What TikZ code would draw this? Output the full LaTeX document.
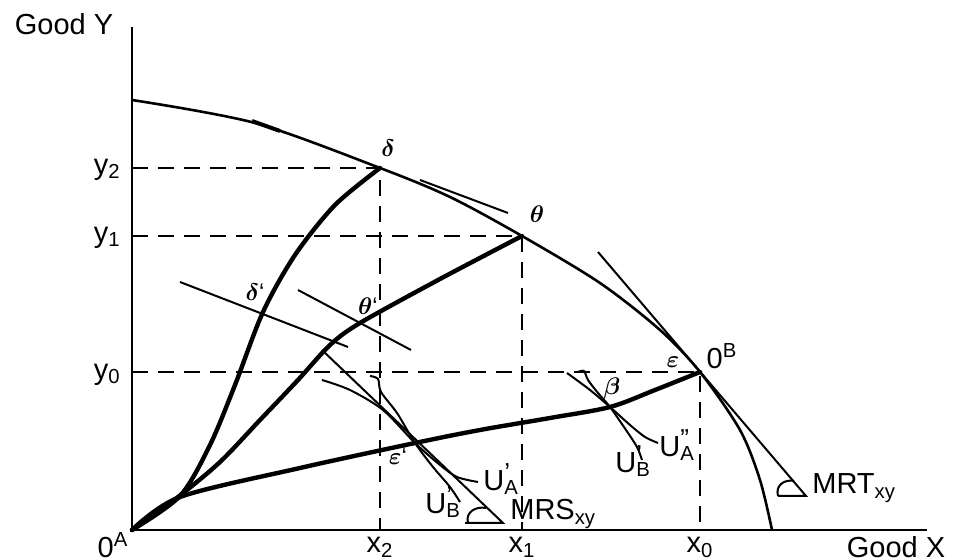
\documentclass[tikz,border=0pt]{standalone}
\usepackage{fontspec}
\setmainfont{Liberation Sans}
\usetikzlibrary{positioning}

\newcommand{\pr}[1]{\rlap{\raisebox{0.32em}{\fontsize{13}{13}\selectfont #1}}}

\tikzset{
  axis/.style={line width=1.1pt},
  ppf/.style={line width=1.3pt},
  contract/.style={line width=2.2pt, line join=round, line cap=round},
  tangline/.style={line width=1pt},
  guide/.style={dash pattern=on 8pt off 5pt, line width=1.1pt},
  lbl/.style={font=\fontsize{14.5}{16}\selectfont, inner sep=1pt},
  greek/.style={font=\fontsize{12}{14}\selectfont\boldmath, inner sep=1pt},
}

\begin{document}
\begin{tikzpicture}[x=0.5pt, y=-0.5pt]
\useasboundingbox (0,0) rectangle (960,560);

\coordinate (OA) at (132,530);
\coordinate (ytop) at (132,27);
\coordinate (xend) at (927,530);
\coordinate (delta) at (380,168);
\coordinate (theta) at (522,236);
\coordinate (OB) at (700,372);
\coordinate (deltap) at (263,312);
\coordinate (thetap) at (360,323);
\coordinate (epsp) at (415,443);
\coordinate (beta) at (610,407);

\draw[axis] (ytop) -- (OA) -- (xend);

\draw[guide] (delta -| OA) -- (delta) -- (delta |- OA);
\draw[guide] (theta -| OA) -- (theta) -- (theta |- OA);
\draw[guide] (OB -| OA) -- (OB) -- (OB |- OA);

% production possibility frontier
\draw[ppf] plot[smooth] coordinates {(132,100) (255,123) (delta) (450,197) (theta) (600,283) (660,330) (OB) (740,430) (760,480) (772,530)};
\draw[line width=2pt] (252,121) -- (280,131);
\draw[tangline] (420,180) -- (508,213);
\coordinate (mrt) at (806,496);
\draw[tangline] (598,252) -- (mrt) -- (778,496);
\draw[tangline] (778,496) .. controls (775,485) and (785,479) .. (794,481);

% contract curves
\draw[contract] plot[smooth] coordinates {(OA) (180,496) (210,445) (235,385) (deltap) (295,255) (335,205) (delta)};
\draw[contract] plot[smooth] coordinates {(OA) (178,497) (220,462) (260,420) (298,380) (330,345) (thetap) (440,279) (theta)};
\draw[contract] plot[smooth] coordinates {(OA) (180,497) (300,468) (epsp) (480,430) (550,418) (beta) (655,390) (OB)};

% indifference curves and price lines
\draw[tangline] (180,282) -- (348,347);
\draw[tangline] (298,290) -- (411,350);
\coordinate (mrs) at (503,523);
\draw[tangline] (322,350) -- (mrs) -- (465,523);
\draw[tangline] (468,523) .. controls (465,512) and (476,506) .. (486,508);
\draw[tangline] plot[smooth] coordinates {(322,380) (350,390) (383,410) (epsp) (440,465) (457,477) (478,482)};
\draw[tangline] plot[smooth] coordinates {(370,376) (378,379) (381,392) (397,413) (epsp) (433,467) (450,487) (460,502)};
\draw[tangline] plot[smooth] coordinates {(567,373) (590,390) (beta) (630,425) (645,437) (658,443)};
\draw[tangline] plot[smooth] coordinates {(578,372) (584,371) (588,380) (598,393) (beta) (626,430) (637,447) (642,460)};

% axis labels
\node[lbl] (goodY) at (64,24) {Good Y};
\node[lbl] (goodX) at (896,547) {Good X};
\node[lbl] (oA) at (113,545) {0\textsuperscript{A}};
\node[lbl] (oB) at (722,356) {0\textsuperscript{B}};
\node[lbl, anchor=east] (y2) at (123,170) {y\textsubscript{2}};
\node[lbl, anchor=east] (y1) at (123,238) {y\textsubscript{1}};
\node[lbl, anchor=east] (y0) at (123,375) {y\textsubscript{0}};
\node[lbl, anchor=north] (x2) at (delta |- 0,535) {x\textsubscript{2}};
\node[lbl, anchor=north] (x1) at (theta |- 0,535) {x\textsubscript{1}};
\node[lbl, anchor=north] (x0) at (OB |- 0,535) {x\textsubscript{0}};
\node[lbl, anchor=west] (mrtlbl) at (810,488) {MRT\textsubscript{xy}};
\node[lbl, anchor=west] (mrslbl) at (508,514) {MRS\textsubscript{xy}};
\node[lbl, anchor=west] (uA1) at (481,479) {U\pr{'}\textsubscript{A}};
\node[lbl, anchor=west] (uB1) at (423,502) {U\pr{'}\textsubscript{B}};
\node[lbl, anchor=west] (uA2) at (657,445) {U\pr{''}\textsubscript{A}};
\node[lbl, anchor=west] (uB2) at (613,461) {U\pr{'}\textsubscript{B}};

% points
\node[greek] (dlbl) at (388,148) {$\delta$};
\node[greek] (tlbl) at (537,214) {$\theta$};
\node[greek] (dplbl) at (255,292) {$\delta$`};
\node[greek] (tplbl) at (368,306) {$\theta$`};
\node[greek] (eplbl) at (398,456) {$\varepsilon$`};
\node[greek] (elbl) at (673,362) {$\varepsilon$};
\node[greek] (blbl) at (612,389) {$\beta$};
\end{tikzpicture}
\end{document}
